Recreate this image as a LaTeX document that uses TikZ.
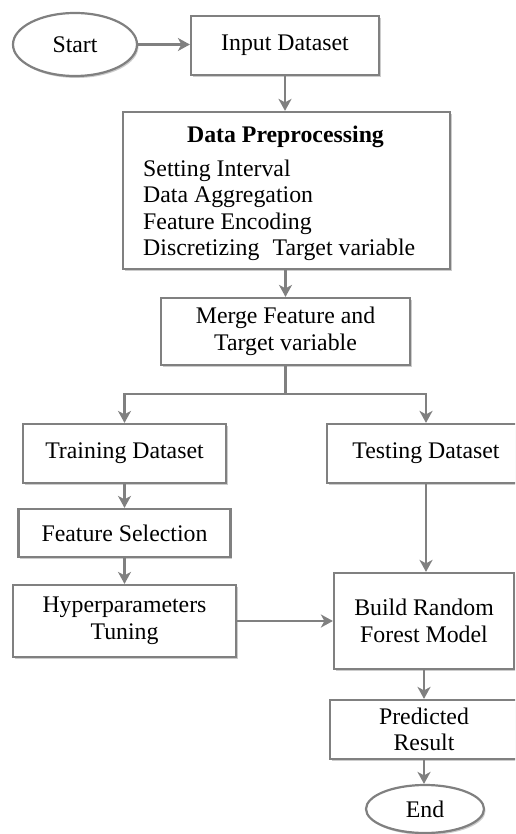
\documentclass[tikz,border=0pt]{standalone}
\usepackage{fontspec}
\setmainfont{Liberation Serif}
\usetikzlibrary{shapes.geometric,arrows.meta,shadows}
\definecolor{linegray}{RGB}{128,128,128}
\tikzset{
  labelfont/.style={font=\fontsize{23.8}{26.5}\selectfont},
  base/.style={draw=linegray, line width=2.2pt, fill=white, labelfont,
    inner sep=0pt, align=center,
    drop shadow={shadow xshift=1.5pt, shadow yshift=-2pt, opacity=0.2, fill=black}},
  procbox/.style={base, rectangle},
  terminal/.style={base, ellipse},
  conn/.style={draw=linegray, line width=2.2pt},
  arr/.style={conn, -{Stealth[length=12pt, width=13pt, inset=3.5pt]}},
  txt/.style={labelfont, inner sep=0pt}
}
\begin{document}
\begin{tikzpicture}[x=1pt, y=-1pt]
  \useasboundingbox (0,0) rectangle (515,834);
  \clip (0,0) rectangle (515,834);

  % start and input
  \node[terminal, minimum width=124pt, minimum height=63pt] (start) at (75,44.5) {Start};
  \node[procbox, minimum width=188pt, minimum height=59pt] (input) at (285,45.5) {Input Dataset};

  % preprocessing block
  \node[procbox, minimum width=327pt, minimum height=157pt] (prep) at (286.5,190.5) {};
  \node[txt, font=\fontsize{23.8}{26.5}\selectfont\bfseries] (prephead) at (285.5,137) {Data Preprocessing};
  \node[txt, anchor=west, align=left] (preplist) at (143,210.5)
    {Setting Interval\\Data Aggregation\\Feature Encoding\\Discretizing\hspace{0.3em} Target variable};

  % merge and split
  \node[procbox, minimum width=249pt, minimum height=67pt] (merge) at (285.5,331.5) {Merge Feature and\\Target variable};
  \coordinate (fork) at (285.5,394);

  % left branch
  \node[procbox, minimum width=203pt, minimum height=59pt] (train) at (124.5,453.5) {Training Dataset};
  \node[procbox, minimum width=212pt, minimum height=48pt] (select) at (124.5,533) {Feature Selection};
  \node[procbox, minimum width=223pt, minimum height=72pt] (tune) at (124.5,621) {Hyperparameters\\Tuning};

  % right branch
  \node[procbox, minimum width=198pt, minimum height=59pt] (test) at (426,453.5) {Testing Dataset};
  \node[procbox, minimum width=180pt, minimum height=96pt] (build) at (424,621) {Build Random\\Forest Model};
  \node[procbox, minimum width=188pt, minimum height=59pt] (pred) at (424,729.5) {Predicted\\Result};
  \node[terminal, minimum width=118pt, minimum height=48pt] (end) at (425,809) {End};

  % connectors
  \draw[arr] (start.east) -- (start.east -| input.west);
  \draw[arr] (input.south) -- (input.south |- prep.north);
  \draw[arr] (prep.south -| merge.north) -- (merge.north);
  \draw[conn] (merge.south) -- (fork);
  \draw[arr] (fork) -| (train.north);
  \draw[arr] (fork) -| (test.north);
  \draw[arr] (train.south) -- (train.south |- select.north);
  \draw[arr] (select.south) -- (select.south |- tune.north);
  \draw[arr] (tune.east) -- (tune.east -| build.west);
  \draw[arr] (test.south) -- (test.south |- build.north);
  \draw[arr] (build.south) -- (build.south |- pred.north);
  \draw[arr] (pred.south) -- (pred.south |- end.north);
\end{tikzpicture}
\end{document}
